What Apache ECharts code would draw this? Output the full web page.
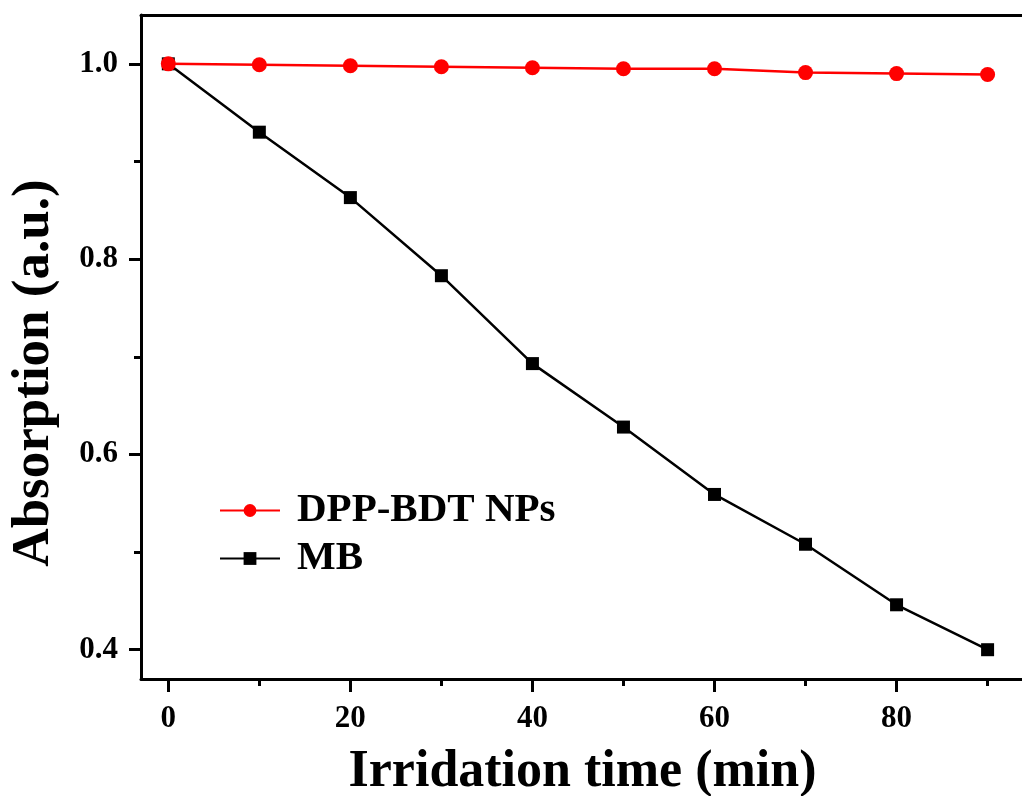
<!DOCTYPE html>
<html>
<head>
<meta charset="utf-8">
<script src="https://cdn.jsdelivr.net/npm/echarts@6/dist/echarts.min.js"></script>
<style>html,body{margin:0;padding:0;background:#fff;}#c{width:1022px;height:796px;}</style>
</head>
<body>
<div id="c"></div>
<script>
const times = [0, 10, 20, 30, 40, 50, 60, 70, 80, 90];
const dppValues = [1.000, 0.999, 0.998, 0.997, 0.996, 0.995, 0.995, 0.991, 0.990, 0.989];
const mbValues = [1.000, 0.930, 0.863, 0.783, 0.693, 0.628, 0.559, 0.508, 0.446, 0.400];
const xMajorTicks = [0, 20, 40, 60, 80];
const xMinorTicks = [10, 30, 50, 70, 90];
const yMajorTicks = [0.4, 0.6, 0.8, 1.0];
const yMinorTicks = [0.5, 0.7, 0.9];
const seriesNames = ['DPP-BDT NPs', 'MB'];

const FONT = '"Liberation Serif", "Times New Roman", serif';
const chart = echarts.init(document.getElementById('c'), null, {renderer: 'canvas'});
const xMin = -3, xMax = 94, yMin = 0.37, yMax = 1.05;

const option = {
  backgroundColor: '#fff',
  animation: false,
  grid: {left: 141, top: 15, right: -2, bottom: 117, containLabel: false, outerBoundsMode: 'none'},
  legend: {
    data: seriesNames,
    orient: 'vertical',
    left: 214,
    top: 485,
    itemWidth: 60,
    itemHeight: 16,
    itemGap: 7,
    textStyle: {fontFamily: FONT, fontWeight: 'bold', fontSize: 41, color: '#000', padding: [0, 0, 0, 12]}
  },
  xAxis: [
    {
      type: 'value', min: xMin, max: xMax, position: 'bottom',
      name: 'Irridation time (min)', nameLocation: 'middle', nameGap: 68,
      nameTextStyle: {fontFamily: FONT, fontWeight: 'bold', fontSize: 52, color: '#000'},
      axisLine: {show: true, onZero: false, lineStyle: {color: '#000', width: 3}},
      axisTick: {show: true, inside: false, length: 13, customValues: xMajorTicks, lineStyle: {color: '#000', width: 3}},
      axisLabel: {show: true, customValues: xMajorTicks, margin: 24, fontFamily: FONT, fontWeight: 'bold', fontSize: 31, color: '#000'},
      splitLine: {show: false}
    },
    {
      type: 'value', min: xMin, max: xMax, position: 'bottom', gridIndex: 0,
      axisLine: {show: false, onZero: false},
      axisTick: {show: true, inside: false, length: 7, customValues: xMinorTicks, lineStyle: {color: '#000', width: 3}},
      axisLabel: {show: false},
      splitLine: {show: false}
    },
    {
      type: 'value', min: xMin, max: xMax, position: 'top', gridIndex: 0,
      axisLine: {show: true, onZero: false, lineStyle: {color: '#000', width: 3}},
      axisTick: {show: false},
      axisLabel: {show: false},
      splitLine: {show: false}
    }
  ],
  yAxis: [
    {
      type: 'value', min: yMin, max: yMax, position: 'left',
      name: 'Absorption (a.u.)', nameLocation: 'middle', nameGap: 80, nameRotate: 90,
      nameTextStyle: {fontFamily: FONT, fontWeight: 'bold', fontSize: 53, color: '#000', padding: [0, 52, 0, 0]},
      axisLine: {show: true, onZero: false, lineStyle: {color: '#000', width: 3}},
      axisTick: {show: true, inside: false, length: 12, customValues: yMajorTicks, lineStyle: {color: '#000', width: 3}},
      axisLabel: {show: true, customValues: yMajorTicks, margin: 23, fontFamily: FONT, fontWeight: 'bold', fontSize: 31, color: '#000',
        formatter: v => v.toFixed(1)},
      splitLine: {show: false}
    },
    {
      type: 'value', min: yMin, max: yMax, position: 'left', gridIndex: 0,
      axisLine: {show: false, onZero: false},
      axisTick: {show: true, inside: false, length: 7, customValues: yMinorTicks, lineStyle: {color: '#000', width: 3}},
      axisLabel: {show: false},
      splitLine: {show: false}
    }
  ],
  series: [
    {
      name: seriesNames[1], type: 'line', xAxisIndex: 0, yAxisIndex: 0, z: 2,
      data: times.map((t, i) => [t, mbValues[i]]),
      symbol: 'rect', symbolSize: 13,
      lineStyle: {color: '#000', width: 2.5},
      itemStyle: {color: '#000'}
    },
    {
      name: seriesNames[0], type: 'line', xAxisIndex: 0, yAxisIndex: 0, z: 3,
      data: times.map((t, i) => [t, dppValues[i]]),
      symbol: 'circle', symbolSize: 15,
      lineStyle: {color: '#ff0000', width: 2.5},
      itemStyle: {color: '#ff0000'}
    }
  ]
};
chart.setOption(option);
</script>
</body>
</html>
